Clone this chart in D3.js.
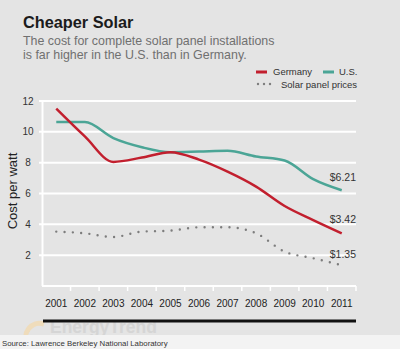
<!DOCTYPE html>
<html>
<head>
<meta charset="utf-8">
<script src="https://cdn.jsdelivr.net/npm/d3@7"></script>
<style>
  html, body { margin: 0; padding: 0; background: #e4e4e4; }
  svg { display: block; font-family: "Liberation Sans", Arial, sans-serif; }
</style>
</head>
<body>
<div id="chart"></div>
<script>
const years = ["2001", "2002", "2003", "2004", "2005", "2006", "2007", "2008", "2009", "2010", "2011"];
const germany = [11.5, 9.7, 8.05, 8.33, 8.68, 8.2, 7.42, 6.45, 5.19, 4.28, 3.42];
const us = [10.63, 10.63, 9.59, 9.0, 8.68, 8.72, 8.77, 8.4, 8.14, 6.93, 6.21];
const panel = [3.53, 3.42, 3.18, 3.53, 3.59, 3.81, 3.81, 3.42, 2.23, 1.8, 1.35];
const yTicks = [2, 4, 6, 8, 10, 12];
const endLabels = ["$6.21", "$3.42", "$1.35"];

const width = 400,
    height = 349;

const red = "#c21f2e",
    teal = "#4ba596",
    dotGray = "#7d7d7d";

const svg = d3.select("#chart").append("svg")
    .attr("width", width)
    .attr("height", height);

svg.append("rect")
    .attr("width", width)
    .attr("height", height)
    .attr("fill", "#e4e4e4");

const x = d3.scaleBand()
    .domain(years)
    .range([42, 356]);

const y = d3.scaleLinear()
    .domain([0, 12])
    .range([286, 101]);

const xc = function(d) { return x(d) + x.bandwidth() / 2; };

// watermark (drawn first so the source strip cuts it off)
svg.append("path")
    .attr("d", "M28,345 A14,14 0 0,1 44,324")
    .attr("fill", "none")
    .attr("stroke", "#f1d9b0")
    .attr("stroke-width", 5)
    .attr("opacity", 0.8);

svg.append("text")
    .attr("x", 50)
    .attr("y", 333)
    .attr("font-size", 17.5)
    .attr("font-weight", "bold")
    .attr("fill", "#d2d2d2")
    .attr("opacity", 0.8)
    .text("EnergyTrend");

// source strip at the bottom
svg.append("rect")
    .attr("y", 335)
    .attr("width", width)
    .attr("height", height - 335)
    .attr("fill", "#f3f3f3");

// title
svg.append("text")
    .attr("x", 23)
    .attr("y", 28)
    .attr("font-size", 16.3)
    .attr("font-weight", "bold")
    .attr("fill", "#1b1b1b")
    .text("Cheaper Solar");

svg.append("text")
    .attr("x", 23)
    .attr("y", 45)
    .attr("font-size", 12.4)
    .attr("fill", "#707070")
    .text("The cost for complete solar panel installations");

svg.append("text")
    .attr("x", 23)
    .attr("y", 58.5)
    .attr("font-size", 12.4)
    .attr("fill", "#707070")
    .text("is far higher in the U.S. than in Germany.");

// gridlines
svg.append("g")
    .selectAll("line")
    .data(yTicks)
  .enter().append("line")
    .attr("x1", 39)
    .attr("x2", 356)
    .attr("y1", function(d) { return y(d); })
    .attr("y2", function(d) { return y(d); })
    .attr("stroke", "#fff")
    .attr("stroke-width", 2);

// baseline + y axis line
svg.append("line")
    .attr("x1", 42).attr("x2", 356)
    .attr("y1", y(0)).attr("y2", y(0))
    .attr("stroke", "#fff").attr("stroke-width", 2);

svg.append("line")
    .attr("x1", 42.5).attr("x2", 42.5)
    .attr("y1", y(12) - 1).attr("y2", y(0))
    .attr("stroke", "#fff").attr("stroke-width", 2);

// ticks between years
svg.append("g")
    .selectAll("line")
    .data(years.slice(1).concat(["end"]))
  .enter().append("line")
    .attr("x1", function(d) { return d === "end" ? x.range()[1] : x(d); })
    .attr("x2", function(d) { return d === "end" ? x.range()[1] : x(d); })
    .attr("y1", y(0))
    .attr("y2", y(0) + 5)
    .attr("stroke", "#fff")
    .attr("stroke-width", 1.5);

// y labels
svg.append("g")
    .selectAll("text")
    .data(yTicks)
  .enter().append("text")
    .attr("x", 28)
    .attr("y", function(d) { return y(d); })
    .attr("dy", "0.35em")
    .attr("text-anchor", "middle")
    .attr("font-size", 10)
    .attr("fill", "#333")
    .text(function(d) { return d; });

svg.append("text")
    .attr("transform", "translate(17," + 191 + ") rotate(-90)")
    .attr("text-anchor", "middle")
    .attr("font-size", 13)
    .attr("fill", "#222")
    .text("Cost per watt");

// x axis labels
const xAxis = d3.axisBottom(x).tickSize(0).tickPadding(0);
const gx = svg.append("g")
    .attr("transform", "translate(0,300)")
    .call(xAxis);
gx.select(".domain").remove();
gx.selectAll("text")
    .attr("font-size", 10)
    .attr("font-family", "Liberation Sans, Arial, sans-serif")
    .attr("fill", "#222");

// black rule under the axis
svg.append("line")
    .attr("x1", 43).attr("x2", 356)
    .attr("y1", 321).attr("y2", 321)
    .attr("stroke", "#111").attr("stroke-width", 3);

// source
svg.append("text")
    .attr("x", 2)
    .attr("y", 346)
    .attr("font-size", 7.8)
    .attr("fill", "#333")
    .text("Source: Lawrence Berkeley National Laboratory");

// lines
const line = d3.line()
    .x(function(d, i) { return xc(years[i]); })
    .y(function(d) { return y(d); })
    .curve(d3.curveMonotoneX);

svg.append("path")
    .datum(panel)
    .attr("d", line)
    .attr("fill", "none")
    .attr("stroke", dotGray)
    .attr("stroke-width", 2.4)
    .attr("stroke-linecap", "round")
    .attr("stroke-dasharray", "0 8.3");

svg.append("path")
    .datum(us)
    .attr("d", line)
    .attr("fill", "none")
    .attr("stroke", teal)
    .attr("stroke-width", 2.5);

svg.append("path")
    .datum(germany)
    .attr("d", line)
    .attr("fill", "none")
    .attr("stroke", red)
    .attr("stroke-width", 2.5);

// end labels
const labelY = [181, 223, 258];
svg.append("g")
    .selectAll("text")
    .data(endLabels)
  .enter().append("text")
    .attr("x", 356)
    .attr("y", function(d, i) { return labelY[i]; })
    .attr("text-anchor", "end")
    .attr("font-size", 10.5)
    .attr("fill", "#333")
    .text(function(d) { return d; });

// legend
const legend = svg.append("g").attr("font-size", 9.5).attr("fill", "#333");

legend.append("rect").attr("x", 256).attr("y", 70.5).attr("width", 11).attr("height", 3).attr("fill", red);
legend.append("text").attr("x", 273).attr("y", 75).text("Germany");
legend.append("rect").attr("x", 323).attr("y", 70.5).attr("width", 11).attr("height", 3).attr("fill", teal);
legend.append("text").attr("x", 339).attr("y", 75).text("U.S.");

legend.append("g")
    .selectAll("circle")
    .data([0, 1, 2])
  .enter().append("circle")
    .attr("cx", function(d) { return 258 + d * 6; })
    .attr("cy", 84)
    .attr("r", 1.2)
    .attr("fill", dotGray);
legend.append("text").attr("x", 281).attr("y", 88).text("Solar panel prices");
</script>
</body>
</html>
